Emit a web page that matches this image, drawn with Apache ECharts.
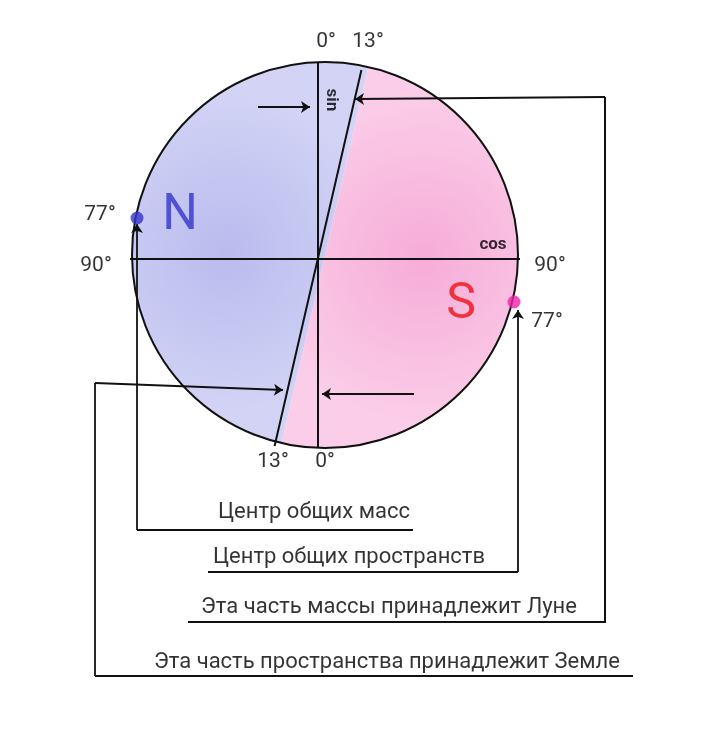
<!DOCTYPE html>
<html><head><meta charset="utf-8">
<script src="https://cdn.jsdelivr.net/npm/echarts@6/dist/echarts.min.js"></script>
<style>html,body{margin:0;background:#fff}#c{width:713px;height:741px}</style>
</head><body><div id="c"></div>
<script>
const circle = {cx: 325, cy: 255, r: 193};
const lineCenter = [318, 258];
const tiltDeg = 13;
// connector paths (arrow at last point)
const arrowPaths = [
  [[258,107],[310,107]],
  [[605,97],[355,99]],
  [[414,394],[322,394]],
  [[95,676],[95,383],[283,390]],
  [[413,530],[137,530],[137,224]],
  [[208,572],[518,572],[518,310]]
];
const plainPaths = [
  [[318,63],[318,448]],
  [[130,259],[520,259]],
  [[605,97],[605,622],[188,622]],
  [[95,676],[633,676]]
];
const dots = [
  {name:'N', value:[137,218], color:'#3333cc'},
  {name:'S', value:[514,302], color:'#ee22aa'}
];
const labels = [
  ['0°',326,42,21,'#000'],['13°',368,42,21,'#000'],
  ['77°',100,215,21,'#000'],['90°',96,266,21,'#000'],
  ['90°',550,266,21,'#000'],['77°',547,322,21,'#000'],
  ['13°',273,462,21,'#000'],['0°',325,462,21,'#000'],
  ['N',180,216,50,'#3333cc'],['S',461,305,50,'#ee1111'],
  ['Центр общих масс',314,512,22,'#000'],
  ['Центр общих пространств',349,557,22,'#000'],
  ['Эта часть массы принадлежит Луне',389,607,22,'#000'],
  ['Эта часть пространства принадлежит Земле',387,662,22,'#000']
];
const boldLabels = [['cos',493,245,0],['sin',331,100,-90]];

const arrowSegs=[], leadPaths=[];
arrowPaths.forEach(p=>{
  arrowSegs.push({coords:p.slice(-2)});
  if(p.length>2) leadPaths.push({coords:p.slice(0,-1)});
});

const chart = echarts.init(document.getElementById('c'));
function halfPoly(api, startDeg){
  const pts=[];
  for(let a=startDeg;a<=startDeg+180;a+=3){
    const rad=a*Math.PI/180;
    pts.push(api.coord([circle.cx+circle.r*Math.sin(rad), circle.cy-circle.r*Math.cos(rad)]));
  }
  return pts;
}
const s=Math.sin(tiltDeg*Math.PI/180), co=Math.cos(tiltDeg*Math.PI/180);
chart.setOption({
  animation:false,
  grid:{left:0,right:0,top:0,bottom:0},
  xAxis:{type:'value',min:0,max:713,show:false},
  yAxis:{type:'value',min:0,max:741,inverse:true,show:false},
  series:[
    {type:'custom',coordinateSystem:'cartesian2d',data:[[circle.cx,circle.cy]],z:1,silent:true,
     renderItem:function(p,api){
       const c=api.coord([circle.cx,circle.cy]);
       const rr=api.size([circle.r,circle.r]);
       const a=api.coord([lineCenter[0]+circle.r*s, lineCenter[1]-circle.r*co]);
       const b=api.coord([lineCenter[0]-circle.r*s, lineCenter[1]+circle.r*co]);
       return {type:'group',children:[
         {type:'polygon',shape:{points:halfPoly(api,tiltDeg)},style:{fill:{type:'radial',x:0.6,y:0.5,r:0.7,colorStops:[{offset:0,color:'#f6acd8'},{offset:1,color:'#fbcde8'}]}}},
         {type:'polygon',shape:{points:halfPoly(api,tiltDeg+180)},style:{fill:{type:'radial',x:0.4,y:0.5,r:0.7,colorStops:[{offset:0,color:'#b9bbee'},{offset:1,color:'#d3d4f5'}]}}},
         {type:'circle',shape:{cx:c[0],cy:c[1],r:rr[0]},style:{fill:'none',stroke:'#111',lineWidth:2}},
         {type:'line',shape:{x1:a[0],y1:a[1],x2:b[0],y2:b[1]},style:{stroke:'#111',lineWidth:2}}
       ]};
     }},
    {type:'lines',coordinateSystem:'cartesian2d',z:3,silent:true,
     symbol:['none','arrow'],symbolSize:9,
     lineStyle:{color:'#111',width:1.8,opacity:1},
     data:arrowSegs},
    {type:'lines',coordinateSystem:'cartesian2d',polyline:true,z:3,silent:true,
     lineStyle:{color:'#111',width:1.8,opacity:1},
     data:leadPaths},
    {type:'lines',coordinateSystem:'cartesian2d',polyline:true,z:3,silent:true,
     lineStyle:{color:'#111',width:2,opacity:1},
     data:plainPaths.map(p=>({coords:p}))},
    {type:'scatter',z:4,symbolSize:13,silent:true,
     data:dots.map(d=>({name:d.name,value:d.value,itemStyle:{color:d.color}}))},
    {type:'scatter',z:5,symbolSize:0,silent:true,
     data:labels.map(l=>({name:l[0],value:[l[1],l[2]],label:{fontSize:l[3],color:l[4]}})),
     label:{show:true,position:'inside',formatter:'{b}',fontFamily:'Roboto'}},
    {type:'scatter',z:5,symbolSize:0,silent:true,
     data:boldLabels.map(l=>({name:l[0],value:[l[1],l[2]],label:{rotate:l[3]}})),
     label:{show:true,position:'inside',formatter:'{b}',fontSize:17,fontWeight:'bold',color:'#000',fontFamily:'Roboto'}}
  ]
});
</script></body></html>
